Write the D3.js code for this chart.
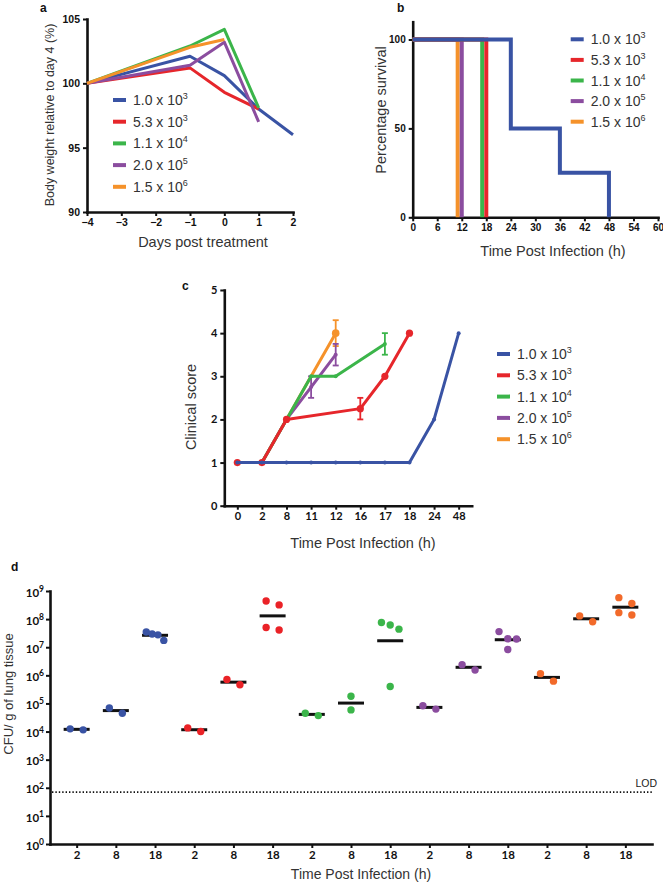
<!DOCTYPE html>
<html>
<head>
<meta charset="utf-8">
<script src="https://cdn.jsdelivr.net/npm/d3@7"></script>
<style>
  body { margin: 0; background: #fff; }
  svg { display: block; }
</style>
</head>
<body>
<svg width="663" height="884"></svg>
<script>
// dose groups
const doseLabels = ["1.0", "5.3", "1.1", "2.0", "1.5"];
const doseExps = [3, 3, 4, 5, 6];
const colours = ["#3953a4", "#e6262b", "#3bb54a", "#8b4d9f", "#f5922a"];
const dotColours = ["#3953a4", "#ea2227", "#3bb54a", "#8b4d9f", "#f26a2a"];

// a: body weight relative to day 4 (%)
const daysA = [-4, -1, 0, 1, 2];
const weightBlue = [100, 102.1, 100.6, 98.0, 96.0];
const weightRed = [100, 101.2, 99.3, 98.0, null];
const weightGreen = [100, 102.9, 104.2, 98.1, null];
const weightPurple = [100, 101.4, 103.2, 97.0, null];
const weightOrange = [100, 102.8, 103.4, null, null];

// b: survival (time h, percent)
const survBlue = [[0, 100], [24, 50], [36, 25], [48, 0]];
const survRed = [[0, 100], [18, 0]];
const survGreen = [[0, 100], [17, 0]];
const survPurple = [[0, 100], [12, 0]];
const survOrange = [[0, 100], [11, 0]];
const ticksB = [0, 6, 12, 18, 24, 30, 36, 42, 48, 54, 60];

// c: clinical score
const timesC = ["0", "2", "8", "11", "12", "16", "17", "18", "24", "48"];
const scoreBlue = { t: ["0", "2", "8", "11", "12", "16", "17", "18", "24", "48"], v: [1, 1, 1, 1, 1, 1, 1, 1, 2, 4], e: [0, 0, 0, 0, 0, 0, 0, 0, 0, 0] };
const scoreRed = { t: ["0", "2", "8", "16", "17", "18"], v: [1, 1, 2, 2.25, 3, 4], e: [0, 0, 0, 0.25, 0, 0] };
const scoreGreen = { t: ["0", "2", "8", "11", "12", "17"], v: [1, 1, 2, 3, 3, 3.75], e: [0, 0, 0, 0, 0, 0.25] };
const scorePurple = { t: ["0", "2", "8", "11", "12"], v: [1, 1, 2, 2.75, 3.5], e: [0, 0, 0, 0.25, 0.25] };
const scoreOrange = { t: ["0", "2", "8", "11", "12"], v: [1, 1, 2, 3, 4], e: [0, 0, 0, 0, 0.3] };

// d: CFU / g of lung tissue, per dose group at 2, 8, 18 h
const timesD = ["2", "8", "18"];
const cfuBlue = [[1.25e4, 1.15e4], [6.9e4, 4.5e4], [3.5e7, 2.95e7, 2.75e7, 1.75e7]];
const cfuRed = [[1.35e4, 1.0e4], [7.1e5, 4.6e5], [4.4e8, 3.2e8, 5.0e7, 4.1e7]];
const cfuGreen = [[4.5e4, 3.7e4], [1.8e5, 5.9e4], [7.6e7, 6.2e7, 4.4e7, 4.0e5]];
const cfuPurple = [[8.3e4, 6.3e4], [2.4e6, 1.55e6], [3.6e7, 2.0e7, 1.95e7, 8.3e6]];
const cfuOrange = [[1.15e6, 6.2e5], [1.3e8, 8.1e7], [5.8e8, 3.6e8, 1.7e8, 1.4e8]];
const lod = 70;

const svg = d3.select("svg");
const sans = "'Liberation Sans', Arial, Helvetica, sans-serif";
const tickFont = "Lato, 'Liberation Sans', sans-serif";

function styleAxis(g, fam, size) {
  g.select(".domain").attr("stroke", "#111").attr("stroke-width", 2.6).attr("stroke-linecap", "square");
  g.selectAll(".tick line").attr("stroke", "#111").attr("stroke-width", 2);
  g.selectAll(".tick text")
    .attr("font-family", fam)
    .attr("font-size", size)
    .attr("font-weight", "bold")
    .attr("fill", "#111");
}

function title(text, x, y, size, rotate) {
  const t = svg.append("text")
    .attr("text-anchor", "middle")
    .attr("font-family", sans)
    .attr("font-size", size)
    .attr("fill", "#333")
    .text(text);
  if (rotate) t.attr("transform", `translate(${x},${y}) rotate(-90)`);
  else t.attr("x", x).attr("y", y);
}

function letter(ch, x, y) {
  svg.append("text").attr("x", x).attr("y", y)
    .attr("font-family", sans).attr("font-weight", "bold").attr("font-size", 12)
    .attr("fill", "#111").text(ch);
}

function legend(x, y0, dy) {
  let lg = svg.append("g");
  doseLabels.forEach((lab, i) => {
    let y = y0 + i * dy;
    lg.append("line")
      .attr("x1", x).attr("x2", x + 13).attr("y1", y).attr("y2", y)
      .attr("stroke", colours[i]).attr("stroke-width", 4);
    let t = lg.append("text")
      .attr("x", x + 20).attr("y", y + 5)
      .attr("font-family", sans).attr("font-size", 14).attr("fill", "#333");
    t.append("tspan").text(lab + " x 10");
    t.append("tspan").attr("dy", -6).attr("font-size", 9).text(doseExps[i]);
  });
}

/** Panel a **/
let xA = d3.scaleLinear().domain([-4, 2]).range([87, 293]);
let yA = d3.scaleLinear().domain([90, 105]).range([212, 19]);

let gA = svg.append("g");
gA.append("g").attr("transform", "translate(0,212)")
  .call(d3.axisBottom(xA).ticks(6).tickSize(4).tickSizeOuter(0).tickFormat(d3.format("d")))
  .call(g => styleAxis(g, sans, 10.5));
gA.append("g").attr("transform", "translate(87,0)")
  .call(d3.axisLeft(yA).tickValues([90, 95, 100, 105]).tickSize(4).tickSizeOuter(0))
  .call(g => styleAxis(g, sans, 10.5));

let weights = [weightBlue, weightRed, weightGreen, weightPurple, weightOrange];
let lineA = d3.line()
  .defined(d => d[1] != null)
  .x(d => xA(d[0]))
  .y(d => yA(d[1]));
weights.forEach((w, i) => {
  gA.append("path")
    .datum(daysA.map((d, j) => [d, w[j]]))
    .attr("d", lineA)
    .attr("fill", "none")
    .attr("stroke", colours[i])
    .attr("stroke-width", 3)
    .attr("stroke-linejoin", "round");
});
legend(113, 100, 21.7);
title("Body weight relative to day 4 (%)", 54, 115, 12.5, true);
title("Days post treatment", 203, 247, 14.5, false);
letter("a", 40, 12);

/** Panel b **/
let xB = d3.scaleLinear().domain([0, 60]).range([412.7, 658]);
let yB = d3.scaleLinear().domain([0, 110]).range([217.3, 21.7]);

let gB = svg.append("g");
gB.append("g").attr("transform", "translate(0,217.3)")
  .call(d3.axisBottom(xB).tickValues(ticksB).tickSize(4).tickSizeOuter(0))
  .call(g => styleAxis(g, sans, 10));
gB.append("g").attr("transform", "translate(412.7,0)")
  .call(d3.axisLeft(yB).tickValues([0, 50, 100]).tickSize(4).tickSizeOuter(0))
  .call(g => styleAxis(g, sans, 10));

let lineB = d3.line().curve(d3.curveStepAfter).x(d => xB(d[0])).y(d => yB(d[1]));
let survs = [survBlue, survRed, survGreen, survPurple, survOrange];
[4, 3, 2, 1, 0].forEach(i => {
  gB.append("path")
    .datum(survs[i])
    .attr("d", lineB)
    .attr("fill", "none")
    .attr("stroke", colours[i])
    .attr("stroke-width", 4);
});
legend(570.7, 39.3, 20.6);
title("Percentage survival", 386, 110, 14.5, true);
title("Time Post Infection (h)", 553, 256, 14.5, false);
letter("b", 397, 12);

/** Panel c **/
let xC = d3.scalePoint().domain(timesC).range([224.3, 471.7]).padding(0.53);
let yC = d3.scaleLinear().domain([0, 5]).range([505.7, 290]);

let gC = svg.append("g");
gC.append("g").attr("transform", "translate(0,505.7)")
  .call(d3.axisBottom(xC).tickSize(4).tickSizeOuter(0))
  .call(g => styleAxis(g, tickFont, 11));
gC.append("g").attr("transform", "translate(224.3,0)")
  .call(d3.axisLeft(yC).ticks(5).tickSize(4).tickSizeOuter(0))
  .call(g => styleAxis(g, tickFont, 11));

let scores = [scoreBlue, scoreRed, scoreGreen, scorePurple, scoreOrange];
let markerR = [2, 3.6, 2, 2, 3.8];
let lineC = d3.line().x(d => xC(d.t)).y(d => yC(d.v));
[4, 3, 2, 1, 0].forEach(i => {
  let s = scores[i];
  let pts = s.t.map((t, j) => ({ t: t, v: s.v[j], e: s.e[j] }));
  let g = gC.append("g");
  // error bars
  pts.filter(p => p.e > 0).forEach(p => {
    let x = xC(p.t);
    g.append("line").attr("x1", x).attr("x2", x).attr("y1", yC(p.v - p.e)).attr("y2", yC(p.v + p.e))
      .attr("stroke", colours[i]).attr("stroke-width", 1.8);
    [p.v - p.e, p.v + p.e].forEach(v => {
      g.append("line").attr("x1", x - 3).attr("x2", x + 3).attr("y1", yC(v)).attr("y2", yC(v))
        .attr("stroke", colours[i]).attr("stroke-width", 1.8);
    });
  });
  g.append("path")
    .datum(pts)
    .attr("d", lineC)
    .attr("fill", "none")
    .attr("stroke", colours[i])
    .attr("stroke-width", 3)
    .attr("stroke-linejoin", "round");
  g.selectAll("circle")
    .data(i === 4 ? pts.slice(-1) : pts)
    .enter()
    .append("circle")
    .attr("cx", d => xC(d.t))
    .attr("cy", d => yC(d.v))
    .attr("r", markerR[i])
    .attr("fill", colours[i]);
});
legend(497, 354, 21.3);
title("Clinical score", 196, 407, 14.5, true);
title("Time Post Infection (h)", 363, 548, 14.5, false);
letter("c", 182, 290);

/** Panel d **/
let groupsD = [];
[cfuBlue, cfuRed, cfuGreen, cfuPurple, cfuOrange].forEach((grp, i) => {
  grp.forEach((vals, j) => {
    groupsD.push({ key: i * 3 + j, label: timesD[j], colour: dotColours[i], vals: vals });
  });
});
let xD = d3.scalePoint().domain(groupsD.map(d => d.key)).range([50, 652]).padding(0.68);
let yD = d3.scaleLog().domain([1, 1e9]).range([844, 591]);

let gD = svg.append("g");
gD.append("g").attr("transform", "translate(0,844)")
  .call(d3.axisBottom(xD).tickSize(4).tickSizeOuter(0).tickFormat(k => groupsD[k].label))
  .call(g => styleAxis(g, tickFont, 11.5));
let yAxisD = gD.append("g").attr("transform", "translate(50,0)")
  .call(d3.axisLeft(yD).tickValues(d3.range(0, 10).map(e => Math.pow(10, e))).tickSize(4).tickSizeOuter(0).tickFormat(""))
  .call(g => styleAxis(g, tickFont, 11.5));
yAxisD.selectAll(".tick text").each(function (d) {
  let t = d3.select(this).attr("x", -6).attr("dy", "0.45em");
  t.append("tspan").text("10");
  t.append("tspan").attr("dy", "-0.55em").attr("font-size", 8.5).text(Math.round(Math.log10(d)));
});

// LOD line
gD.append("line")
  .attr("x1", 52).attr("x2", 652).attr("y1", yD(lod)).attr("y2", yD(lod))
  .attr("stroke", "#111").attr("stroke-width", 1.6).attr("stroke-dasharray", "1.4 2");
gD.append("text").attr("x", 657).attr("y", yD(lod) - 5).attr("text-anchor", "end")
  .attr("font-family", sans).attr("font-size", 10.5).attr("fill", "#222").text("LOD");

// spread overlapping points sideways, then the geometric-mean bar
groupsD.forEach(grp => {
  let pts = grp.vals.slice().sort((a, b) => b - a).map(v => ({ v: v, y: yD(v) }));
  let clusters = [[pts[0]]];
  for (let k = 1; k < pts.length; k++) {
    let last = clusters[clusters.length - 1];
    if (pts[k].y - last[last.length - 1].y < 8.5) last.push(pts[k]);
    else clusters.push([pts[k]]);
  }
  clusters.forEach(c => {
    let step = c.length > 1 ? Math.min(13, 17.5 / (c.length - 1)) : 0;
    c.forEach((p, k) => { p.dx = (k - (c.length - 1) / 2) * step; });
  });
  let cx = xD(grp.key);
  let gm = Math.pow(10, d3.mean(grp.vals, v => Math.log10(v)));
  gD.append("line")
    .attr("x1", cx - 13).attr("x2", cx + 13).attr("y1", yD(gm)).attr("y2", yD(gm))
    .attr("stroke", "#111").attr("stroke-width", 3);
  gD.selectAll(null)
    .data(pts)
    .enter()
    .append("circle")
    .attr("cx", d => cx + d.dx)
    .attr("cy", d => d.y)
    .attr("r", 3.7)
    .attr("fill", grp.colour);
});
title("CFU/ g of lung tissue", 13, 694, 13, true);
title("Time Post Infection (h)", 361, 879, 14, false);
letter("d", 11, 571);
</script>
</body>
</html>
